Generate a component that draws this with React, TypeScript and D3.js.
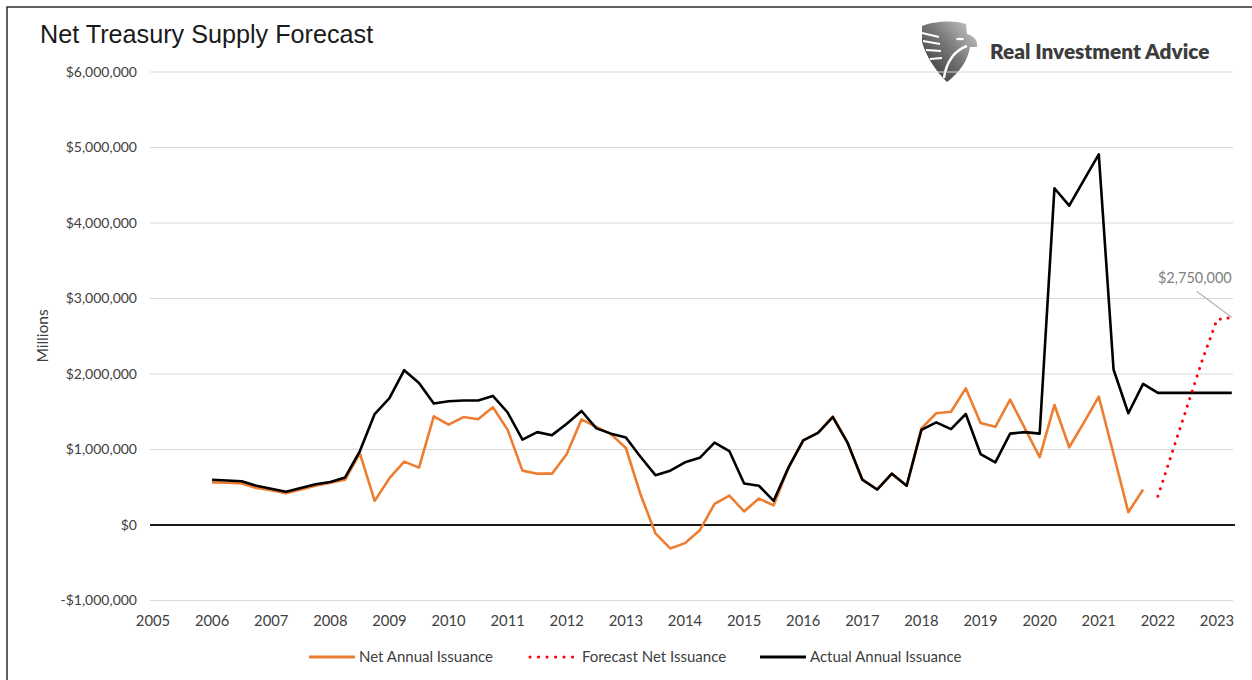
import React, { useEffect, useRef } from 'react';
import * as d3 from 'd3';

// quarterly observations, values in $ millions
const firstYear = 2006;
const forecastStart = 2022;

const yearTicks = [2005, 2006, 2007, 2008, 2009, 2010, 2011, 2012, 2013, 2014, 2015, 2016, 2017, 2018, 2019, 2020, 2021, 2022, 2023];
const valueTicks = [-1000000, 0, 1000000, 2000000, 3000000, 4000000, 5000000, 6000000];

const netAnnualIssuance = [
    565000, 560000, 550000, 490000,
    460000, 420000, 470000, 520000,
    560000, 600000, 950000, 320000,
    620000, 840000, 760000, 1440000,
    1330000, 1430000, 1400000, 1560000,
    1260000, 720000, 680000, 680000,
    940000, 1400000, 1300000, 1200000,
    1020000, 400000, -110000, -310000,
    -240000, -70000, 280000, 390000,
    180000, 350000, 260000, 760000,
    1120000, 1220000, 1440000, 1090000,
    600000, 470000, 680000, 520000,
    1280000, 1480000, 1500000, 1810000,
    1350000, 1300000, 1660000, 1280000,
    900000, 1590000, 1030000, 1360000,
    1700000, 940000, 170000, 470000,
];

const forecastNetIssuance = [380000, 980000, 1580000, 2180000, 2720000, 2750000];

const actualAnnualIssuance = [
    600000, 590000, 580000, 520000,
    480000, 440000, 490000, 540000,
    570000, 630000, 980000, 1470000,
    1680000, 2050000, 1880000, 1610000,
    1640000, 1650000, 1650000, 1710000,
    1490000, 1130000, 1230000, 1190000,
    1340000, 1510000, 1280000, 1210000,
    1160000, 900000, 660000, 720000,
    830000, 890000, 1090000, 980000,
    550000, 520000, 320000, 760000,
    1120000, 1220000, 1430000, 1090000,
    600000, 470000, 680000, 520000,
    1260000, 1360000, 1270000, 1470000,
    940000, 830000, 1210000, 1230000,
    1210000, 4460000, 4230000, 4570000,
    4910000, 2060000, 1480000, 1870000,
    1750000, 1750000, 1750000, 1750000,
    1750000, 1750000,
];

const forecastLabel = '$2,750,000';

const seriesNames = ['Net Annual Issuance', 'Forecast Net Issuance', 'Actual Annual Issuance'];
const seriesColors = ['#ed7d31', '#ff0000', '#000000'];

const labelFont = 'Lato, "Open Sans", sans-serif';

function App() {
    const ref = useRef<SVGSVGElement>(null);

    useEffect(() => {
        const svg = d3.select(ref.current);
        svg.selectAll('*').remove();

        const x = d3.scaleLinear().domain([2005, 2023]).range([153, 1217]);
        const y = d3.scaleLinear().domain([-1000000, 6000000]).range([600.5, 72]);
        const left = 150, right = 1233;

        // frame
        svg.append('path')
            .attr('d', 'M7,680 V7 H1252')
            .attr('fill', 'none')
            .attr('stroke', '#2b2b2b')
            .attr('stroke-width', 1.5);

        svg.append('text')
            .attr('x', 40)
            .attr('y', 43)
            .attr('font-family', '"Liberation Sans", Arial, sans-serif')
            .attr('font-size', '25.2px')
            .attr('fill', '#1a1a1a')
            .text('Net Treasury Supply Forecast');

        // logo
        const defs = svg.append('defs');
        const grad = defs.append('linearGradient')
            .attr('id', 'shieldGrad')
            .attr('x1', 0).attr('y1', 1).attr('x2', 1).attr('y2', 0);
        grad.append('stop').attr('offset', 0).attr('stop-color', '#2e2e2e');
        grad.append('stop').attr('offset', 0.55).attr('stop-color', '#7a7a7a');
        grad.append('stop').attr('offset', 1).attr('stop-color', '#d2d2d2');

        const logo = svg.append('g').attr('transform', 'translate(920,20)');
        logo.append('path')
            .attr('d', 'M2,6 C14,1 34,0 46,4 L47,14 C54,16 58,20 57,27 L50,27 C48,40 40,52 27,62 C15,50 6,36 2,22 Z')
            .attr('fill', 'url(#shieldGrad)');
        [[2, 13, 19, 17], [3, 21, 20, 24], [6, 30, 21, 31], [10, 39, 22, 38]].forEach(d => {
            logo.append('line')
                .attr('x1', d[0]).attr('y1', d[1]).attr('x2', d[2]).attr('y2', d[3])
                .attr('stroke', '#fff').attr('stroke-width', 1.8);
        });
        logo.append('ellipse')
            .attr('cx', 40).attr('cy', 19).attr('rx', 4).attr('ry', 1.2)
            .attr('fill', '#fff');
        logo.append('path')
            .attr('d', 'M47,26 C35,30 26,42 24,58')
            .attr('fill', 'none')
            .attr('stroke', '#fff')
            .attr('stroke-width', 2.5);

        svg.append('text')
            .attr('x', 990)
            .attr('y', 59)
            .attr('font-family', labelFont)
            .attr('font-weight', 800)
            .attr('font-size', '20.8px')
            .attr('fill', '#3d3d3d')
            .text('Real Investment Advice');

        // grid and y labels
        valueTicks.forEach(v => {
            svg.append('line')
                .attr('x1', left).attr('x2', v === 0 ? right + 2 : right)
                .attr('y1', y(v)).attr('y2', y(v))
                .attr('stroke', v === 0 ? '#1a1a1a' : '#d9d9d9')
                .attr('stroke-width', v === 0 ? 2 : 1.2);
            svg.append('text')
                .attr('x', 137)
                .attr('y', y(v))
                .attr('dy', '0.35em')
                .attr('text-anchor', 'end')
                .attr('font-family', labelFont)
                .attr('font-size', '14px')
                .attr('fill', '#404040')
                .text((v < 0 ? '-$' : '$') + d3.format(',')(Math.abs(v)));
        });

        yearTicks.forEach(t => {
            svg.append('text')
                .attr('x', x(t))
                .attr('y', 626)
                .attr('text-anchor', 'middle')
                .attr('font-family', labelFont)
                .attr('font-size', '14.8px')
                .attr('fill', '#404040')
                .text(t);
        });

        svg.append('text')
            .attr('transform', 'translate(43,336) rotate(-90)')
            .attr('dy', '0.35em')
            .attr('text-anchor', 'middle')
            .attr('font-family', labelFont)
            .attr('font-size', '15.5px')
            .attr('fill', '#404040')
            .text('Millions');

        const line = d3.line<number>()
            .x((d, i) => x(firstYear + i / 4))
            .y(d => y(d));
        const forecastLine = d3.line<number>()
            .x((d, i) => x(forecastStart + i / 4))
            .y(d => y(d));

        svg.append('path')
            .attr('d', line(netAnnualIssuance))
            .attr('fill', 'none')
            .attr('stroke', seriesColors[0])
            .attr('stroke-width', 2.6)
            .attr('stroke-linejoin', 'round');

        svg.append('path')
            .attr('d', line(actualAnnualIssuance))
            .attr('fill', 'none')
            .attr('stroke', seriesColors[2])
            .attr('stroke-width', 2.6)
            .attr('stroke-linejoin', 'round');

        svg.append('path')
            .attr('d', forecastLine(forecastNetIssuance))
            .attr('fill', 'none')
            .attr('stroke', seriesColors[1])
            .attr('stroke-width', 3)
            .attr('stroke-linecap', 'round')
            .attr('stroke-dasharray', '0.1 7.8');

        // annotation for the forecast end point
        const last = forecastNetIssuance.length - 1;
        const ex = x(forecastStart + last / 4), ey = y(forecastNetIssuance[last]);
        svg.append('line')
            .attr('x1', ex - 35).attr('y1', ey - 26)
            .attr('x2', ex).attr('y2', ey)
            .attr('stroke', '#a6a6a6')
            .attr('stroke-width', 1.2);
        svg.append('text')
            .attr('x', ex)
            .attr('y', ey - 34)
            .attr('text-anchor', 'end')
            .attr('font-family', labelFont)
            .attr('font-size', '14.5px')
            .attr('fill', '#7f7f7f')
            .text(forecastLabel);

        // legend
        const legendX = [309, 529, 760];
        seriesNames.forEach((name, i) => {
            const g = svg.append('g').attr('transform', 'translate(' + legendX[i] + ',657)');
            const sample = g.append('line')
                .attr('x1', 0).attr('x2', 46)
                .attr('y1', 0).attr('y2', 0)
                .attr('stroke', seriesColors[i])
                .attr('stroke-width', 3);
            if (i === 1) {
                sample.attr('x1', 1).attr('x2', 44)
                    .attr('stroke-linecap', 'round')
                    .attr('stroke-dasharray', '0.1 8.4');
            }
            g.append('text')
                .attr('x', i === 1 ? 53 : 50)
                .attr('dy', '0.35em')
                .attr('font-family', labelFont)
                .attr('font-size', '15px')
                .attr('fill', '#404040')
                .text(name);
        });
    }, []);

    return (
        <svg ref={ref} width={1252} height={680}
            style={{ position: 'absolute', left: 0, top: 0, background: '#fff' }} />
    );
}

export default App;
